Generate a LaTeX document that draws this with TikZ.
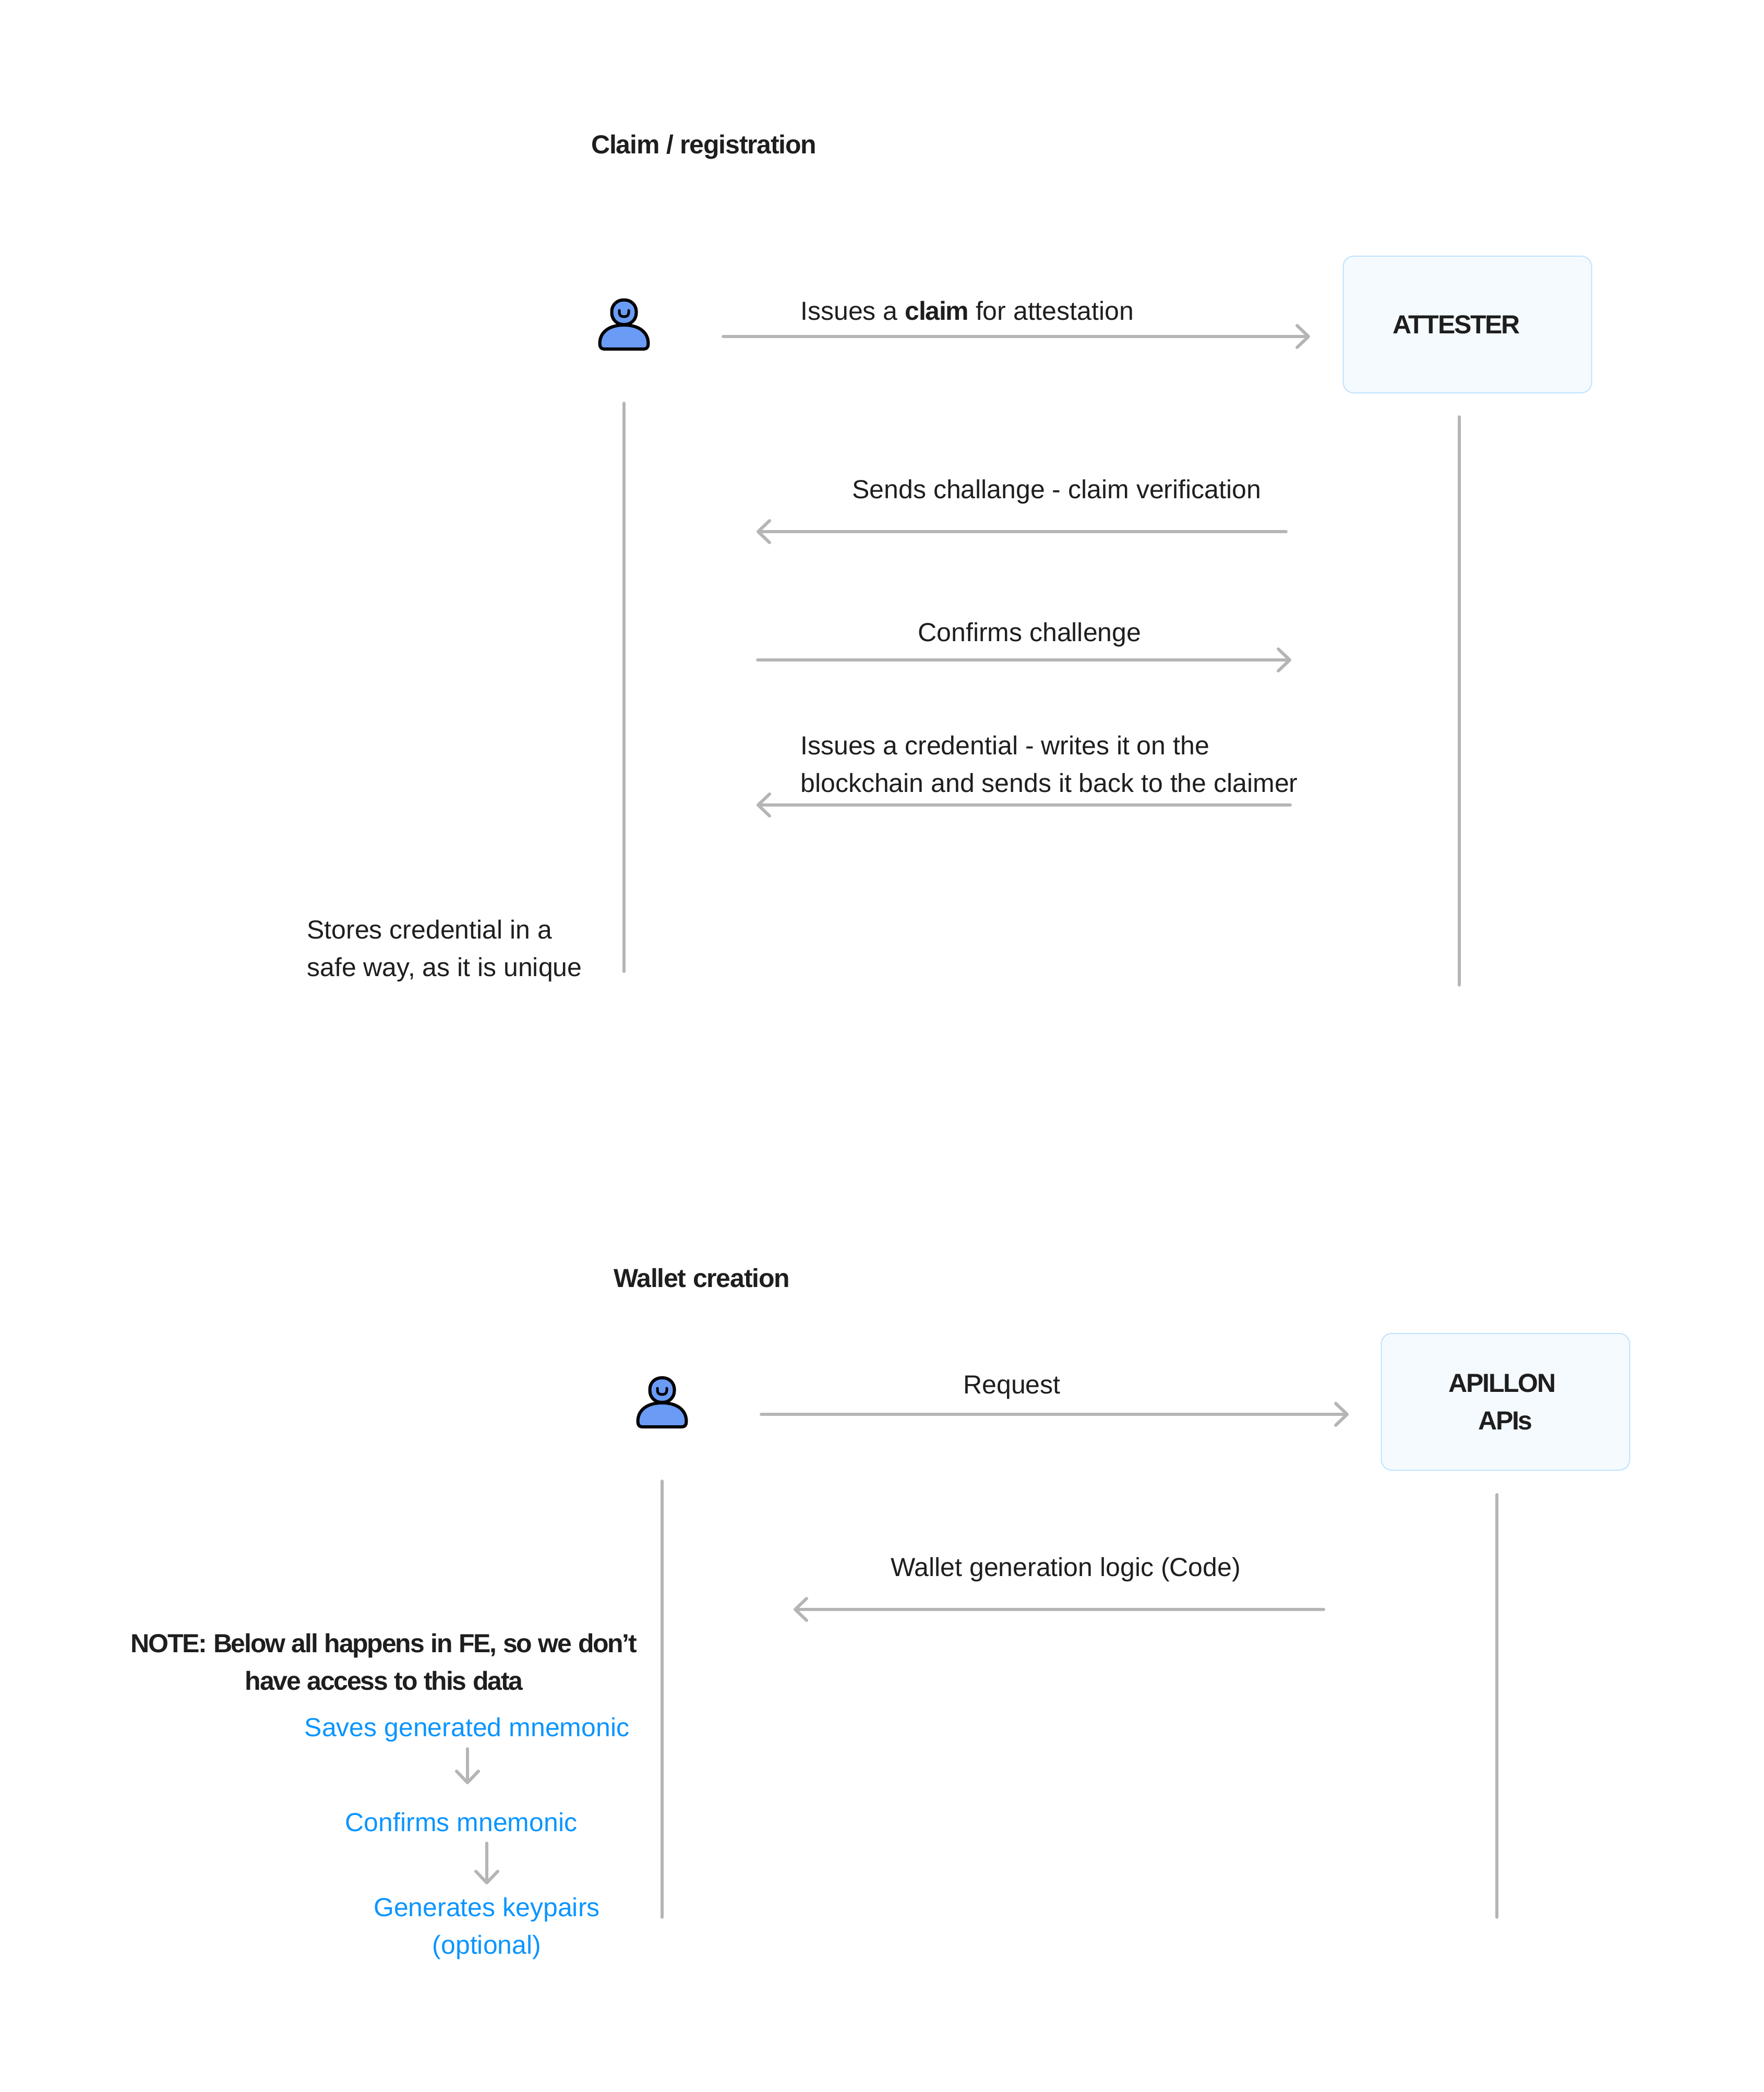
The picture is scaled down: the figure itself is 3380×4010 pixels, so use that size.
\documentclass[tikz,border=0pt]{standalone}
\usepackage{fontspec}
\usepackage{xcolor}
\setmainfont{Liberation Sans}[BoldFeatures={LetterSpace=-2.5}]
\newfontfamily\tightbold{Liberation Sans}[UprightFont=* Bold, LetterSpace=-4.5]
\usetikzlibrary{arrows.meta}

\definecolor{inkdark}{HTML}{1E1E1E}
\definecolor{linegray}{HTML}{B5B5B5}
\definecolor{linkblue}{HTML}{0A95FF}
\definecolor{boxfill}{HTML}{F5FAFF}
\definecolor{boxline}{HTML}{BFE3FF}
\definecolor{personblue}{HTML}{6A9BF5}

\tikzset{
    msg/.style={draw=linegray, line width=3pt, line cap=round, -{Straight Barb[length=11pt,width=21pt,round]}},
    lifeline/.style={draw=linegray, line width=3pt, line cap=round},
    label/.style={font=\fontsize{25}{36}\selectfont, text=inkdark, inner sep=0pt, align=left},
    heading/.style={label, font=\fontsize{25}{36}\selectfont\bfseries},
    notetext/.style={label, align=center, font=\fontsize{25}{36}\selectfont\tightbold},
    flowtext/.style={label, text=linkblue, align=center},
    actorbox/.style={draw=boxline, fill=boxfill, line width=1pt, rounded corners=10pt,
        minimum width=238pt, minimum height=131pt, inner sep=0pt, align=center,
        text=inkdark, font=\fontsize{25}{36}\selectfont\tightbold},
    person/.pic={
        \draw[fill=personblue, line width=3pt, line join=round]
            (-46.5,37) .. controls (-46.5,12) and (-25,1) .. (0,1)
            .. controls (25,1) and (46.5,12) .. (46.5,37)
            .. controls (46.5,44) and (43,47) .. (38,47) -- (-38,47)
            .. controls (-43,47) and (-46.5,44) .. (-46.5,37) -- cycle;
        \draw[fill=personblue, line width=3pt, rounded corners=11pt]
            (-23.5,-47) rectangle (23.5,0);
        \draw[line width=2.5pt, line cap=round]
            (-9,-27) -- (-9,-23) .. controls (-9,-17) and (-5,-15) .. (0,-15)
            .. controls (5,-15) and (9,-17) .. (9,-23) -- (9,-27);
    }
}

\begin{document}
\begin{tikzpicture}[x=0.5pt, y=-0.5pt]
    \useasboundingbox (0,0) rectangle (3380,4010);

    % claim / registration
    \node[heading, anchor=west] (claimtitle) at (1133,282) {Claim / registration};
    \pic at (1196,622) {person};
    \node[actorbox] (attester) at (2812.5,622) {\hspace*{-21pt}ATTESTER};

    \coordinate (holdertop) at (1196,773);
    \coordinate (holderend) at (1196,1862);
    \coordinate (attestertop) at (2797,799);
    \coordinate (attesterend) at (2797,1888);
    \draw[lifeline] (holdertop) -- (holderend);
    \draw[lifeline] (attestertop) -- (attesterend);

    \coordinate (issuestart) at (1386,645);
    \coordinate (issueend) at (2511,645);
    \coordinate (sendstart) at (2465,1019);
    \coordinate (sendend) at (1450,1019);
    \coordinate (confirmstart) at (1452,1265);
    \coordinate (confirmend) at (2475,1265);
    \coordinate (credstart) at (2473,1543);
    \coordinate (credend) at (1450,1543);
    \draw[msg] (issuestart) -- (issueend);
    \draw[msg] (sendstart) -- (sendend);
    \draw[msg] (confirmstart) -- (confirmend);
    \draw[msg] (credstart) -- (credend);

    \node[label, anchor=west] (issuetext) at (1534,596) {Issues a \textbf{claim} for attestation};
    \node[label, anchor=west] (sendtext) at (1633,943) {Sends challange - claim verification};
    \node[label, anchor=west] (confirmtext) at (1759,1217) {Confirms challenge};
    \node[label, anchor=west] (credtext) at (1534,1465) {Issues a credential - writes it on the\\blockchain and sends it back to the claimer};
    \node[label, anchor=west] (storetext) at (588,1823) {Stores credential in a\\safe way, as it is unique};

    % wallet creation
    \node[heading, anchor=west] (wallettitle) at (1176,2450) {Wallet creation};
    \pic at (1269,2688) {person};
    \node[actorbox] (apillon) at (2885.5,2687) {\hspace*{-6pt}APILLON\\APIs};

    \coordinate (usertop) at (1269,2839);
    \coordinate (userend) at (1269,3675);
    \coordinate (apistop) at (2869,2865);
    \coordinate (apisend) at (2869,3675);
    \draw[lifeline] (usertop) -- (userend);
    \draw[lifeline] (apistop) -- (apisend);

    \coordinate (reqstart) at (1459,2711);
    \coordinate (reqend) at (2585,2711);
    \coordinate (logicstart) at (2537,3085);
    \coordinate (logicend) at (1521,3085);
    \draw[msg] (reqstart) -- (reqend);
    \draw[msg] (logicstart) -- (logicend);

    \node[label, anchor=west] (reqtext) at (1846,2659) {Request};
    \node[label, anchor=west] (logictext) at (1707,3009) {Wallet generation logic (Code)};

    \node[notetext] (note) at (736,3186) {NOTE: Below all happens in FE, so we don’t\\have access to this data};
    \node[flowtext] (saves) at (895,3316) {Saves generated mnemonic};
    \node[flowtext] (confirms) at (884,3493) {Confirms mnemonic};
    \node[flowtext] (keypairs) at (933,3697) {Generates keypairs\\(optional)};

    \coordinate (savesout) at (896,3352);
    \coordinate (confirmsin) at (896,3420);
    \coordinate (confirmsout) at (933,3533);
    \coordinate (keypairsin) at (933,3612);
    \draw[msg] (savesout) -- (confirmsin);
    \draw[msg] (confirmsout) -- (keypairsin);
\end{tikzpicture}
\end{document}
